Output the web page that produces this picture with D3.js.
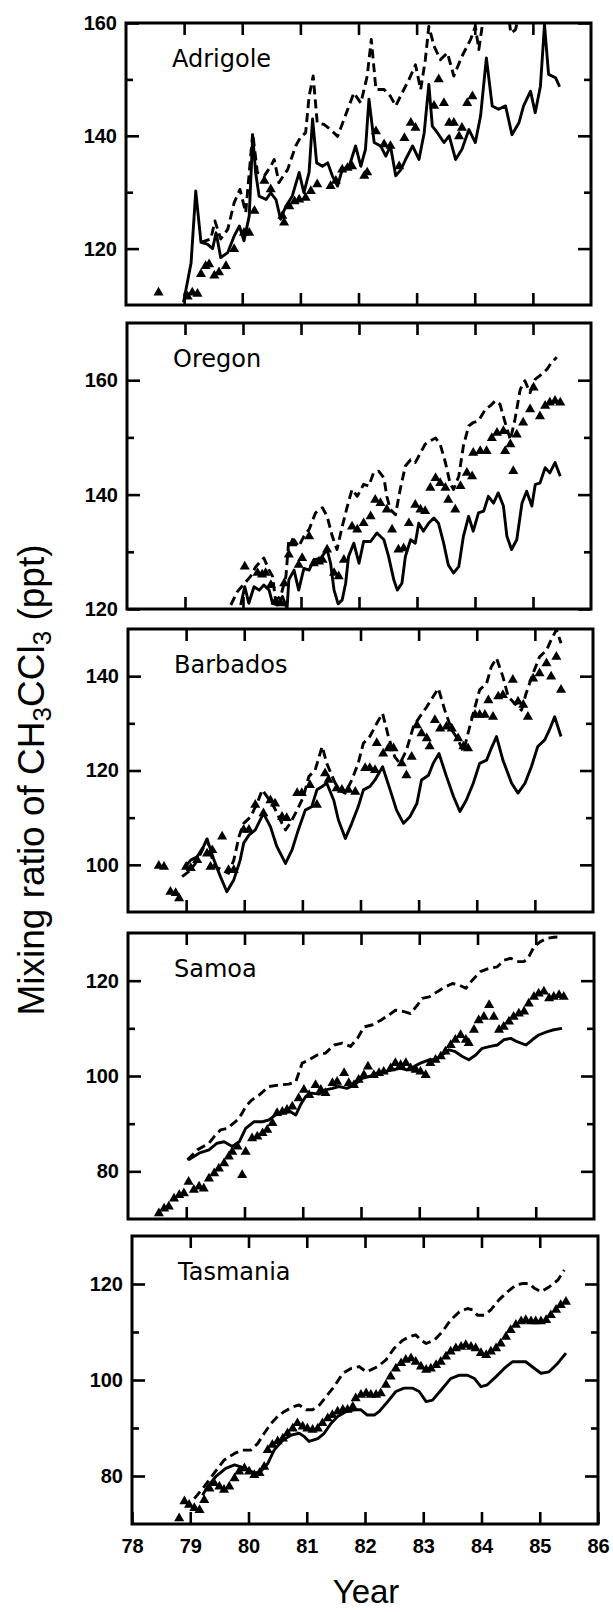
<!DOCTYPE html>
<html><head><meta charset="utf-8">
<script src="https://cdn.jsdelivr.net/npm/d3@7"></script>
<style>body{margin:0;background:#fff} svg{display:block}</style>
</head><body><svg id="c" width="613" height="1612"></svg>
<script>
// ---------- DATA ----------
const yearTicks = [78,79,80,81,82,83,84,85,86];
const innerYearTicks = [79,80,81,82,83,84,85];
const panelNames = ["Adrigole","Oregon","Barbados","Samoa","Tasmania"];
const yDomains = [[110,160],[120,170],[90,150],[70,130],[70,130]];
const yMajorTicks = [[120,140,160],[120,140,160],[100,120,140],[80,100,120],[80,100,120]];
const yMinorTicks = [[130,150],[130,150],[110,130],[90,110],[90,110]];

const adrigoleSolid = [[78.99,110.5],[79.12,117.5],[79.20,130.2],[79.29,121.1],[79.40,120.8],[79.49,120.0],[79.55,122.8],[79.63,118.4],[79.75,119.3],[79.86,122.2],[79.95,124.0],[80.03,121.4],[80.12,125.8],[80.18,140.0],[80.23,133.5],[80.29,129.3],[80.41,128.7],[80.49,129.9],[80.58,128.7],[80.66,125.2],[80.75,127.5],[80.86,129.3],[80.98,133.5],[81.06,129.9],[81.15,133.5],[81.21,143.0],[81.28,135.2],[81.38,134.6],[81.47,135.2],[81.55,132.9],[81.64,131.1],[81.72,134.0],[81.84,134.6],[81.95,138.2],[82.04,134.6],[82.12,137.6],[82.18,146.5],[82.27,138.8],[82.38,138.2],[82.47,136.4],[82.55,138.2],[82.64,132.9],[82.73,134.0],[82.81,135.8],[82.93,138.2],[83.04,135.8],[83.13,140.5],[83.21,149.1],[83.27,141.7],[83.36,140.5],[83.47,138.8],[83.56,140.0],[83.67,135.8],[83.78,137.6],[83.90,141.1],[84.01,138.8],[84.10,143.5],[84.20,153.8],[84.30,145.3],[84.41,144.7],[84.53,145.3],[84.64,140.2],[84.76,142.3],[84.84,145.3],[84.96,147.9],[85.04,144.1],[85.13,148.8],[85.20,159.7],[85.27,150.9],[85.39,150.3],[85.46,148.7]];
const adrigoleDashed = [[79.29,121.1],[79.46,121.7],[79.53,124.9],[79.63,121.7],[79.75,123.4],[79.86,128.1],[79.96,130.5],[80.06,126.4],[80.18,140.5],[80.26,133.5],[80.38,132.9],[80.49,134.6],[80.55,135.8],[80.63,131.7],[80.78,134.0],[80.92,138.2],[81.01,139.9],[81.09,140.5],[81.15,147.0],[81.22,150.6],[81.29,142.3],[81.41,142.0],[81.52,141.1],[81.64,139.9],[81.75,142.9],[81.92,147.6],[82.04,145.8],[82.15,150.6],[82.22,157.1],[82.30,148.2],[82.44,148.2],[82.55,147.0],[82.64,145.3],[82.75,147.6],[82.87,150.0],[82.98,152.6],[83.07,148.2],[83.15,153.5],[83.21,159.4],[83.30,155.9],[83.41,153.5],[83.53,154.7],[83.64,150.6],[83.78,154.1],[83.93,157.1],[84.01,159.4],[84.07,155.3],[84.15,161.0],[84.25,166.0],[84.40,163.0],[84.55,164.0],[84.62,158.2],[84.70,158.8],[84.80,163.0],[84.95,167.0],[85.10,169.0],[85.20,176.0],[85.30,170.0],[85.45,168.0]];
const adrigoleObs = [[78.56,112.2],[79.06,111.5],[79.14,112.2],[79.23,112.0],[79.29,115.5],[79.37,116.9],[79.43,117.2],[79.52,115.2],[79.60,115.8],[79.72,116.9],[79.86,119.9],[80.03,122.8],[80.12,122.8],[80.21,126.7],[80.38,132.0],[80.49,130.5],[80.69,125.8],[80.72,124.6],[80.81,127.5],[80.90,128.4],[80.98,128.7],[81.09,129.0],[81.18,130.2],[81.29,131.4],[81.52,131.1],[81.61,132.0],[81.72,134.0],[81.81,134.3],[81.89,134.6],[82.10,132.9],[82.15,133.5],[82.30,140.8],[82.44,138.5],[82.55,138.2],[82.70,134.6],[82.79,139.6],[82.90,142.3],[82.98,141.4],[83.30,145.3],[83.38,150.0],[83.47,145.8],[83.56,142.3],[83.64,142.3],[83.73,139.9],[83.78,141.4],[83.87,145.8],[83.96,147.0]];

const oregonSolid = [[79.96,120.7],[80.03,123.9],[80.10,121.0],[80.19,123.9],[80.28,123.3],[80.36,124.2],[80.45,123.3],[80.51,121.0],[80.59,120.7],[80.68,122.2],[80.76,120.1],[80.79,125.1],[80.88,126.8],[80.96,123.3],[81.05,127.1],[81.14,126.8],[81.22,128.6],[81.34,128.9],[81.45,130.4],[81.51,128.0],[81.57,123.3],[81.64,120.9],[81.71,121.6],[81.77,124.5],[81.82,129.2],[81.91,131.5],[82.00,128.0],[82.08,131.8],[82.20,131.8],[82.31,133.3],[82.43,132.1],[82.51,129.2],[82.60,125.1],[82.66,123.3],[82.74,124.5],[82.80,129.2],[82.89,132.1],[82.97,131.5],[83.03,135.0],[83.11,133.6],[83.20,135.0],[83.29,135.9],[83.37,135.0],[83.46,131.5],[83.54,127.7],[83.63,126.3],[83.72,127.4],[83.80,132.7],[83.89,136.2],[83.97,133.6],[84.06,136.8],[84.15,137.1],[84.23,139.7],[84.32,138.5],[84.40,140.3],[84.49,138.0],[84.55,132.7],[84.63,130.4],[84.72,132.1],[84.81,138.5],[84.89,140.6],[84.98,138.0],[85.04,141.8],[85.12,142.0],[85.21,144.7],[85.29,143.8],[85.38,145.6],[85.47,143.2]];
const oregonDashed = [[79.79,120.7],[79.90,123.0],[80.13,125.7],[80.22,127.4],[80.36,128.9],[80.45,126.8],[80.51,125.7],[80.56,121.6],[80.65,122.2],[80.74,125.7],[80.79,132.1],[80.88,132.1],[80.96,130.9],[81.05,132.7],[81.14,133.9],[81.25,136.8],[81.37,137.7],[81.45,136.2],[81.54,132.7],[81.62,130.4],[81.71,134.4],[81.80,138.0],[81.88,140.9],[81.97,139.7],[82.08,141.8],[82.17,141.5],[82.25,143.8],[82.34,144.1],[82.43,142.9],[82.48,139.7],[82.54,137.4],[82.63,136.5],[82.71,140.9],[82.80,145.0],[82.89,146.1],[82.97,145.6],[83.06,147.3],[83.14,148.8],[83.23,149.4],[83.32,149.9],[83.40,148.8],[83.49,145.6],[83.57,142.0],[83.63,140.9],[83.72,143.2],[83.80,148.5],[83.89,152.0],[83.97,152.6],[84.06,152.9],[84.18,154.9],[84.26,155.5],[84.35,156.4],[84.43,155.8],[84.52,152.6],[84.61,149.6],[84.69,153.2],[84.78,158.4],[84.86,159.9],[84.95,157.8],[85.04,160.2],[85.12,160.8],[85.24,161.9],[85.32,163.1],[85.41,164.0]];
const oregonObs = [[80.03,127.4],[80.25,126.3],[80.33,126.0],[80.39,126.3],[80.48,124.2],[80.56,121.3],[80.65,121.0],[80.71,124.5],[80.79,129.5],[80.85,131.5],[80.96,127.7],[81.02,128.9],[81.14,132.7],[81.22,128.0],[81.31,128.3],[81.37,128.6],[81.45,130.4],[81.57,126.3],[81.65,125.7],[81.74,128.6],[81.88,134.4],[81.97,133.9],[82.08,135.0],[82.20,136.2],[82.28,139.1],[82.37,138.5],[82.48,137.4],[82.57,133.9],[82.68,130.4],[82.77,130.6],[82.86,135.0],[82.97,138.2],[83.06,137.4],[83.14,137.1],[83.23,141.2],[83.32,142.9],[83.40,142.0],[83.49,141.2],[83.54,139.1],[83.66,137.4],[83.75,141.5],[83.86,143.8],[83.95,143.2],[83.97,147.3],[84.09,147.6],[84.20,147.6],[84.29,149.9],[84.38,150.8],[84.49,151.1],[84.52,147.6],[84.61,148.8],[84.66,144.1],[84.72,150.5],[84.83,152.6],[84.95,154.9],[85.01,158.7],[85.12,153.7],[85.21,155.5],[85.29,156.1],[85.38,156.4],[85.47,156.1]];

const barbadosSolid = [[78.96,99.3],[79.08,101.0],[79.19,101.7],[79.30,103.9],[79.36,105.5],[79.48,101.0],[79.59,97.5],[79.70,94.3],[79.82,96.8],[79.93,101.0],[79.99,104.6],[80.08,106.3],[80.19,107.4],[80.33,110.9],[80.45,108.1],[80.56,103.9],[80.71,100.3],[80.82,103.1],[80.93,107.4],[81.05,111.6],[81.16,112.3],[81.25,115.9],[81.34,116.6],[81.42,117.3],[81.54,113.7],[81.62,109.5],[81.74,105.6],[81.85,108.8],[81.96,112.3],[82.05,115.9],[82.16,116.6],[82.25,118.0],[82.38,120.8],[82.51,115.9],[82.62,111.6],[82.74,108.8],[82.85,110.2],[82.97,113.0],[83.05,118.0],[83.17,119.0],[83.25,121.5],[83.35,123.6],[83.48,118.7],[83.60,114.5],[83.71,111.3],[83.82,113.7],[83.94,117.3],[84.05,121.5],[84.17,122.2],[84.25,124.7],[84.34,127.2],[84.45,122.2],[84.60,117.3],[84.71,115.2],[84.83,117.3],[84.94,120.8],[85.05,125.1],[85.17,126.5],[85.25,128.6],[85.34,131.4],[85.45,127.2]];
const barbadosDashed = [[78.93,97.5],[79.05,98.6],[79.16,100.3],[79.25,102.4],[79.36,105.3],[79.42,102.4],[79.50,99.6],[79.62,98.9],[79.73,98.2],[79.82,101.0],[79.91,106.0],[79.99,108.8],[80.11,110.2],[80.22,113.0],[80.31,115.9],[80.39,114.5],[80.51,112.3],[80.62,109.5],[80.71,107.4],[80.79,108.8],[80.91,111.6],[81.02,114.5],[81.11,118.7],[81.22,120.1],[81.34,125.1],[81.42,121.5],[81.54,118.0],[81.62,115.9],[81.74,115.2],[81.85,118.0],[81.96,121.5],[82.05,125.8],[82.16,127.2],[82.28,130.0],[82.38,132.1],[82.48,127.2],[82.59,122.9],[82.68,121.5],[82.79,124.3],[82.91,129.3],[83.02,131.4],[83.14,133.5],[83.25,135.7],[83.34,137.4],[83.45,132.8],[83.57,128.6],[83.68,126.5],[83.77,124.0],[83.85,127.9],[83.97,133.5],[84.05,137.1],[84.17,138.5],[84.25,142.0],[84.34,143.8],[84.45,139.9],[84.54,135.7],[84.65,134.2],[84.77,132.8],[84.85,136.4],[84.97,140.6],[85.08,144.1],[85.20,145.5],[85.28,147.7],[85.37,149.8],[85.45,147.0]];
const barbadosObs = [[78.53,99.8],[78.62,99.6],[78.73,94.3],[78.82,94.0],[78.88,92.9],[79.00,99.6],[79.08,99.3],[79.19,101.0],[79.36,102.4],[79.45,103.1],[79.42,99.6],[79.62,106.0],[79.73,98.9],[79.82,98.9],[79.99,107.4],[80.08,107.4],[80.19,112.7],[80.33,110.9],[80.45,113.7],[80.53,113.0],[80.65,110.2],[80.73,109.9],[80.91,115.2],[80.99,115.2],[81.13,116.9],[81.25,112.7],[81.39,119.4],[81.45,118.0],[81.59,116.2],[81.68,115.9],[81.79,115.9],[81.91,115.5],[82.08,120.5],[82.16,120.5],[82.25,120.1],[82.28,125.8],[82.39,123.6],[82.48,124.7],[82.57,124.7],[82.71,121.5],[82.79,119.0],[82.88,122.9],[82.97,129.6],[83.05,127.9],[83.14,126.8],[83.19,125.1],[83.28,130.7],[83.37,128.9],[83.48,129.3],[83.57,128.9],[83.68,126.8],[83.77,125.1],[83.85,124.7],[83.97,131.8],[84.05,131.8],[84.14,131.8],[84.20,134.9],[84.28,131.4],[84.37,135.7],[84.45,136.0],[84.62,139.2],[84.71,134.6],[84.80,133.9],[84.88,131.4],[84.97,139.5],[85.08,140.6],[85.20,142.7],[85.28,139.9],[85.37,144.1],[85.45,137.1]];

const samoaSolid = [[79.04,82.4],[79.22,83.8],[79.39,84.5],[79.53,85.9],[79.65,86.2],[79.79,85.2],[79.91,86.2],[80.02,89.0],[80.16,90.4],[80.31,90.4],[80.42,90.8],[80.53,91.8],[80.65,92.3],[80.79,92.5],[80.88,91.8],[80.96,93.9],[81.05,95.7],[81.16,96.4],[81.28,96.2],[81.39,97.1],[81.51,97.4],[81.62,97.8],[81.76,97.4],[81.88,98.1],[82.02,99.5],[82.14,99.9],[82.28,100.6],[82.42,100.9],[82.54,101.3],[82.68,101.6],[82.79,101.3],[82.91,102.0],[83.02,102.7],[83.17,103.4],[83.28,103.4],[83.39,104.4],[83.51,105.5],[83.62,105.1],[83.74,104.1],[83.85,103.4],[83.97,104.4],[84.08,105.8],[84.22,106.2],[84.34,106.5],[84.45,107.6],[84.57,107.9],[84.68,107.2],[84.83,106.5],[84.94,107.6],[85.05,108.6],[85.20,109.3],[85.31,109.7],[85.45,110.0]];
const samoaDashed = [[79.02,82.4],[79.19,84.5],[79.39,85.9],[79.48,87.3],[79.59,88.7],[79.70,89.0],[79.88,90.8],[79.96,92.2],[80.02,93.6],[80.13,95.0],[80.25,96.0],[80.42,97.8],[80.59,98.1],[80.76,98.3],[80.88,98.8],[80.99,102.7],[81.11,103.4],[81.25,104.4],[81.39,104.8],[81.54,106.5],[81.68,106.9],[81.82,106.2],[81.94,107.9],[82.05,110.3],[82.19,110.7],[82.34,111.7],[82.48,112.8],[82.59,113.8],[82.74,113.5],[82.85,113.1],[82.97,114.9],[83.05,116.3],[83.17,116.6],[83.31,117.7],[83.45,118.7],[83.57,119.4],[83.68,119.1],[83.80,118.4],[83.91,120.1],[84.05,121.9],[84.20,122.6],[84.34,122.9],[84.45,124.3],[84.57,124.7],[84.68,124.0],[84.80,124.0],[84.88,125.0],[84.97,127.1],[85.08,128.2],[85.20,128.9],[85.31,129.1],[85.43,129.2]];
const samoaObs = [[78.53,71.2],[78.62,72.2],[78.70,72.6],[78.79,74.3],[78.88,75.0],[78.96,75.4],[79.04,77.8],[79.13,76.1],[79.22,76.8],[79.30,76.4],[79.39,78.5],[79.48,79.6],[79.56,80.6],[79.65,81.7],[79.73,83.1],[79.79,84.1],[79.88,85.2],[79.96,79.2],[80.02,84.1],[80.13,86.9],[80.22,87.3],[80.31,88.0],[80.39,88.7],[80.48,90.1],[80.56,92.2],[80.65,92.5],[80.73,92.9],[80.82,93.6],[80.93,95.3],[81.02,97.1],[81.11,96.0],[81.22,98.1],[81.31,97.1],[81.39,96.4],[81.51,98.5],[81.59,98.8],[81.71,100.6],[81.79,98.5],[81.88,98.1],[81.96,99.2],[82.05,100.2],[82.12,102.0],[82.22,100.2],[82.31,100.6],[82.39,100.9],[82.51,101.6],[82.59,102.7],[82.68,102.3],[82.77,102.7],[82.85,101.6],[82.94,101.3],[83.02,100.9],[83.11,100.2],[83.19,102.7],[83.28,103.4],[83.37,104.1],[83.45,105.1],[83.54,106.5],[83.62,107.6],[83.71,108.6],[83.80,107.6],[83.85,106.9],[83.94,109.7],[84.02,111.7],[84.11,112.4],[84.20,114.9],[84.28,112.4],[84.37,109.7],[84.45,110.3],[84.54,111.4],[84.62,112.4],[84.71,113.1],[84.80,113.5],[84.88,115.2],[84.97,116.6],[85.05,117.3],[85.14,117.7],[85.23,116.3],[85.31,116.6],[85.40,117.0],[85.48,116.6]];

const tasmaniaSolid = [[79.21,76.0],[79.30,77.8],[79.44,79.9],[79.61,81.6],[79.76,82.3],[79.87,81.9],[79.99,81.3],[80.10,80.6],[80.21,80.9],[80.33,82.6],[80.44,85.4],[80.59,87.5],[80.73,88.5],[80.87,88.9],[80.96,88.2],[81.04,87.2],[81.19,87.8],[81.30,88.9],[81.42,91.0],[81.53,92.4],[81.67,93.4],[81.82,93.8],[81.93,93.8],[82.04,92.7],[82.16,92.7],[82.24,93.4],[82.39,95.5],[82.53,97.6],[82.67,98.3],[82.82,98.3],[82.93,97.6],[83.05,95.5],[83.16,95.8],[83.30,97.8],[83.47,100.3],[83.62,101.0],[83.76,101.0],[83.88,100.3],[83.99,98.6],[84.10,99.0],[84.25,100.7],[84.39,102.4],[84.53,103.8],[84.65,103.8],[84.76,103.8],[84.91,102.4],[85.02,101.4],[85.16,101.7],[85.31,103.5],[85.45,105.6]];
const tasmaniaDashed = [[79.07,75.3],[79.24,77.8],[79.41,80.6],[79.58,83.3],[79.76,84.7],[79.90,85.4],[80.04,85.4],[80.16,86.8],[80.27,88.9],[80.39,91.0],[80.50,92.4],[80.61,93.4],[80.76,94.4],[80.87,94.8],[80.99,93.8],[81.10,93.8],[81.22,94.8],[81.33,96.5],[81.47,98.6],[81.62,101.4],[81.76,102.4],[81.90,102.8],[82.02,101.7],[82.10,102.1],[82.22,102.8],[82.36,104.2],[82.50,106.6],[82.65,108.3],[82.76,109.0],[82.87,109.4],[82.96,108.3],[83.05,107.6],[83.19,108.3],[83.33,110.1],[83.47,112.5],[83.62,114.2],[83.76,114.9],[83.85,114.6],[83.93,113.5],[84.05,113.5],[84.16,114.6],[84.30,116.7],[84.45,118.4],[84.59,119.8],[84.71,120.1],[84.82,120.1],[84.91,119.1],[85.02,118.4],[85.16,119.4],[85.31,120.8],[85.42,122.9]];
const tasmaniaObs = [[78.81,71.2],[78.90,74.7],[78.98,74.0],[79.07,73.3],[79.16,72.9],[79.24,75.0],[79.33,77.4],[79.41,78.5],[79.50,77.8],[79.58,77.1],[79.67,77.8],[79.76,79.5],[79.84,80.9],[79.93,81.6],[80.01,80.9],[80.10,80.2],[80.19,80.6],[80.27,81.9],[80.33,85.4],[80.41,86.5],[80.50,87.2],[80.59,87.8],[80.67,88.9],[80.76,89.9],[80.84,91.0],[80.93,90.3],[81.01,89.9],[81.10,89.6],[81.19,89.9],[81.27,91.0],[81.36,92.0],[81.44,92.7],[81.53,93.4],[81.62,93.8],[81.70,93.8],[81.79,94.4],[81.84,96.2],[81.93,96.9],[82.02,97.2],[82.10,96.9],[82.19,96.9],[82.27,97.2],[82.36,99.0],[82.44,100.7],[82.53,102.4],[82.62,103.5],[82.70,104.2],[82.79,104.5],[82.87,103.8],[82.96,102.8],[83.05,102.1],[83.13,102.4],[83.22,103.1],[83.30,103.8],[83.39,104.9],[83.47,105.9],[83.56,106.6],[83.65,106.9],[83.73,107.3],[83.82,106.9],[83.90,106.6],[83.99,105.6],[84.08,105.2],[84.16,105.9],[84.25,106.6],[84.33,107.6],[84.42,109.0],[84.50,110.4],[84.59,111.5],[84.68,112.2],[84.76,112.5],[84.85,112.2],[84.93,112.2],[85.02,112.2],[85.11,112.5],[85.19,113.5],[85.28,114.6],[85.36,115.6],[85.45,116.3]];

const solidSeries = [adrigoleSolid, oregonSolid, barbadosSolid, samoaSolid, tasmaniaSolid];
const dashedSeries = [adrigoleDashed, oregonDashed, barbadosDashed, samoaDashed, tasmaniaDashed];
const obsSeries = [adrigoleObs, oregonObs, barbadosObs, samoaObs, tasmaniaObs];

// ---------- LAYOUT ----------
const boxes = [
  {x0:126, x1:591, y0:23,   y1:305},
  {x0:127, x1:591, y0:323,  y1:609},
  {x0:128, x1:593, y0:629,  y1:912},
  {x0:128, x1:594, y0:933,  y1:1219},
  {x0:132, x1:598, y0:1236, y1:1524}
];
const tickFont = "'Liberation Sans', Arial, sans-serif";

const svg = d3.select("#c");
svg.append("rect").attr("width",613).attr("height",1612).attr("fill","#fff");

panelNames.forEach((name, i) => {
  const b = boxes[i];
  const x = d3.scaleLinear().domain([78,86]).range([b.x0,b.x1]);
  const y = d3.scaleLinear().domain(yDomains[i]).range([b.y1,b.y0]);
  const g = svg.append("g");

  const clipId = "clip"+i;
  svg.append("clipPath").attr("id",clipId).append("rect")
    .attr("x",b.x0).attr("y",b.y0).attr("width",b.x1-b.x0).attr("height",b.y1-b.y0);

  const line = d3.line().x(d=>x(d[0])).y(d=>y(d[1]));
  const plot = g.append("g").attr("clip-path",`url(#${clipId})`);
  plot.append("path").datum(dashedSeries[i]).attr("d",line)
    .attr("fill","none").attr("stroke","#000").attr("stroke-width",2.9)
    .attr("stroke-dasharray","9,5").attr("stroke-linejoin","round");
  plot.append("path").datum(solidSeries[i]).attr("d",line)
    .attr("fill","none").attr("stroke","#000").attr("stroke-width",2.9)
    .attr("stroke-linejoin","round");
  const tri = d3.symbol().type(d3.symbolTriangle).size(44);
  plot.selectAll("path.obs").data(obsSeries[i]).join("path")
    .attr("class","obs").attr("d",tri)
    .attr("transform",d=>`translate(${x(d[0])},${y(d[1])})`)
    .attr("fill","#000");

  // axes (ticks inward)
  const styleAxis = sel => {
    sel.select(".domain").remove();
    sel.selectAll(".tick line").attr("stroke","#000").attr("stroke-width",2.6);
    sel.selectAll("text").attr("font-family",tickFont).attr("font-weight","bold")
      .attr("font-size","20px").attr("fill","#000");
  };
  g.append("g").attr("transform",`translate(${b.x0},0)`)
    .call(d3.axisLeft(y).tickValues(yMajorTicks[i]).tickSize(-13).tickPadding(9).tickFormat(d3.format("d")))
    .call(styleAxis);
  g.append("g").attr("transform",`translate(${b.x0},0)`)
    .call(d3.axisLeft(y).tickValues(yMinorTicks[i]).tickSize(-7).tickFormat(""))
    .call(styleAxis);
  g.append("g").attr("transform",`translate(${b.x1},0)`)
    .call(d3.axisRight(y).tickValues(yMajorTicks[i]).tickSize(-13).tickFormat(""))
    .call(styleAxis);
  g.append("g").attr("transform",`translate(${b.x1},0)`)
    .call(d3.axisRight(y).tickValues(yMinorTicks[i]).tickSize(-7).tickFormat(""))
    .call(styleAxis);
  g.append("g").attr("transform",`translate(0,${b.y0})`)
    .call(d3.axisTop(x).tickValues(innerYearTicks).tickSize(-12).tickFormat(""))
    .call(styleAxis);
  const last = i === panelNames.length-1;
  g.append("g").attr("transform",`translate(0,${b.y1})`)
    .call(d3.axisBottom(x).tickValues(last ? yearTicks : innerYearTicks).tickSize(-12).tickPadding(15)
      .tickFormat(last ? d3.format("d") : ""))
    .call(styleAxis);

  // frame
  g.append("rect").attr("x",b.x0).attr("y",b.y0).attr("width",b.x1-b.x0).attr("height",b.y1-b.y0)
    .attr("fill","none").attr("stroke","#000").attr("stroke-width",3);

  // site label
  g.append("text").attr("x",b.x0+46).attr("y",b.y0+44)
    .attr("font-family","'DejaVu Sans', sans-serif").attr("font-size","24px").attr("fill","#000")
    .text(name);
});

// axis titles
const yt = svg.append("text")
  .attr("transform","translate(44,780) rotate(-90)")
  .attr("text-anchor","middle")
  .attr("font-family","'Liberation Sans', Arial, sans-serif").attr("font-size","37px").attr("fill","#000");
yt.append("tspan").text("Mixing ratio of CH");
yt.append("tspan").attr("font-size","26px").attr("dy","7").text("3");
yt.append("tspan").attr("dy","-7").text("CCl");
yt.append("tspan").attr("font-size","26px").attr("dy","7").text("3");
yt.append("tspan").attr("dy","-7").text(" (ppt)");

svg.append("text").attr("x",366).attr("y",1603).attr("text-anchor","middle")
  .attr("font-family","'Liberation Sans', Arial, sans-serif").attr("font-size","33px").attr("fill","#000")
  .text("Year");
</script>
</body></html>
